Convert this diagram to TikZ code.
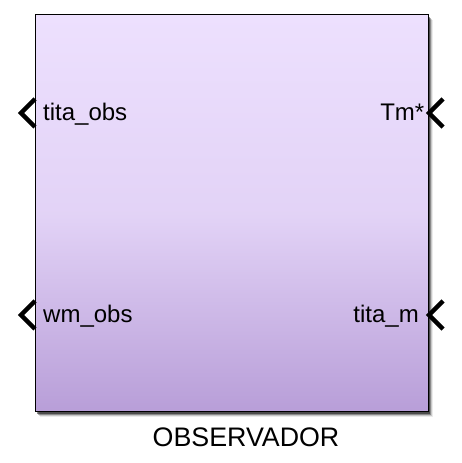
\documentclass[tikz,border=0pt]{standalone}
\usepackage{fontspec}
\setmainfont{Liberation Sans}
\definecolor{blktop}{RGB}{237,224,254}
\definecolor{blkbot}{RGB}{184,158,216}
\begin{document}
\begin{tikzpicture}[x=1pt,y=1pt,
  portlbl/.style={inner sep=0pt,font=\fontsize{24}{26}\selectfont,text=black},
  chev/.style={line width=4.3pt,line join=miter,black}]
\useasboundingbox (0,0) rectangle (461,463);
\fill[white] (0,0) rectangle (461,463);
% shadow
\foreach \d/\o in {5/0.08,4/0.15,3/0.3,2/0.45}{
  \fill[black,opacity=\o] (35+\d,51-\d) rectangle (428+\d,448-\d);
}
% block body with gradient
\shade[top color=blktop,bottom color=blkbot,middle color=blktop!80!blkbot,shading angle=0]
  (35,51) rectangle (428,448);
\node[draw=black,line width=1.2pt,inner sep=0pt,minimum width=393pt,minimum height=397pt,anchor=south west] (blk) at (35,51) {};
% ports
\draw[chev] (35,364) -- (21,350) -- (35,336);
\draw[chev] (443,364) -- (429,350) -- (443,336);
\draw[chev] (35,162) -- (21,148) -- (35,134);
\draw[chev] (443,162) -- (429,148) -- (443,134);
% labels
\node[portlbl,anchor=base west] (in1) at (43,342.5) {tita\_obs};
\node[portlbl,anchor=base west] (in2) at (43,140) {wm\_obs};
\node[portlbl,anchor=base east] (out1) at (424.5,342.5) {Tm*};
\node[portlbl,anchor=base east] (out2) at (419,140) {tita\_m};
\node[inner sep=0pt,font=\fontsize{26.8}{28}\selectfont,anchor=base] (name) at (246,16.5) {OBSERVADOR};
\end{tikzpicture}
\end{document}
